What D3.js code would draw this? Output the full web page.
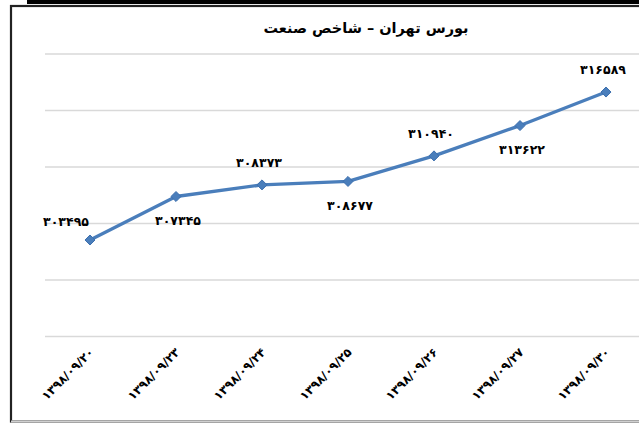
<!DOCTYPE html>
<html><head><meta charset="utf-8">
<script src="https://cdn.jsdelivr.net/npm/d3@7"></script>
<style>
html,body{margin:0;padding:0;background:#fff;overflow:hidden}
svg{display:block}
text{font-family:"DejaVu Sans","Noto Sans",sans-serif;font-weight:bold;fill:#000}
</style></head>
<body>
<svg id="c" width="639" height="423"></svg>
<script>
const title = "بورس تهران – شاخص صنعت";
const categories = ["۱۳۹۸/۰۹/۲۰","۱۳۹۸/۰۹/۲۳","۱۳۹۸/۰۹/۲۴","۱۳۹۸/۰۹/۲۵","۱۳۹۸/۰۹/۲۶","۱۳۹۸/۰۹/۲۷","۱۳۹۸/۰۹/۳۰"];
const values = [303495, 307345, 308373, 308677, 310940, 313622, 316589];
const valueLabels = ["۳۰۳۴۹۵","۳۰۷۳۴۵","۳۰۸۳۷۳","۳۰۸۶۷۷","۳۱۰۹۴۰","۳۱۳۶۲۲","۳۱۶۵۸۹"];
const labelPlacement = ["upleft","below","above","below","above","below","above"];
const yTicks = [295000, 300000, 305000, 310000, 315000, 320000];

const svg = d3.select("#c");
const W = 639, H = 423;

// frame
svg.append("rect").attr("x",11).attr("y",6).attr("width",W+20).attr("height",H-6-1.5)
  .attr("fill","#fff").attr("stroke","#222").attr("stroke-width",2.2);
svg.append("line").attr("x1",11).attr("x2",W).attr("y1",421.5).attr("y2",421.5)
  .attr("stroke","#d0d0d0").attr("stroke-width",2);
svg.append("rect").attr("x",27).attr("y",0).attr("width",W-27).attr("height",4).attr("fill","#000");

const x = d3.scalePoint().domain(categories).range([90, 606]);
const y = d3.scaleLinear().domain([295000, 320000]).range([336, 53.5]);

// gridlines
const grid = d3.axisLeft(y).tickValues(yTicks).tickSize(-(W-45)).tickFormat("");
const gg = svg.append("g").attr("transform","translate(45,0)").call(grid);
gg.select(".domain").remove();
gg.selectAll(".tick line").attr("stroke","#d9d9d9").attr("stroke-width",1.5);

// x axis labels
const xa = d3.axisBottom(x).tickSize(0).tickFormat(d=>d);
const xg = svg.append("g").attr("transform","translate(0,336)").call(xa);
xg.select(".domain").remove();
xg.selectAll(".tick text")
  .attr("text-anchor","end")
  .attr("dy",null).attr("y",0)
  .attr("transform","translate(4,17) rotate(-45)")
  .style("font-size","12px")
  .style("font-family","DejaVu Sans")
  .style("font-weight","bold");

// title
svg.append("text").attr("x",366).attr("y",33).attr("text-anchor","middle")
  .style("font-size","14.5px").text(title);

// line
const pts = categories.map((c,i)=>({c, v:values[i], lab:valueLabels[i], p:labelPlacement[i]}));
svg.append("path").datum(pts)
  .attr("d", d3.line().x(d=>x(d.c)).y(d=>y(d.v)))
  .attr("fill","none").attr("stroke","#4a7ebb").attr("stroke-width",3.3)
  .attr("stroke-linejoin","round");

// markers
svg.selectAll("path.mk").data(pts).join("path").attr("class","mk")
  .attr("d", d3.symbol().type(d3.symbolDiamond2 || d3.symbolDiamond).size(64))
  .attr("transform", d=>`translate(${x(d.c)},${y(d.v)})`)
  .attr("fill","#4a7ebb").attr("stroke","#3c6fae").attr("stroke-width",1);

// data labels
const off = {upleft:[-24,-18], above:[-3,-22], below:[2,24]};
svg.selectAll("text.lbl").data(pts).join("text").attr("class","lbl")
  .attr("x", d=>x(d.c)+off[d.p][0])
  .attr("y", d=>y(d.v)+off[d.p][1])
  .attr("dy","0.35em")
  .attr("text-anchor","middle")
  .style("font-size","12.5px")
  .text(d=>d.lab);
</script>
</body></html>
